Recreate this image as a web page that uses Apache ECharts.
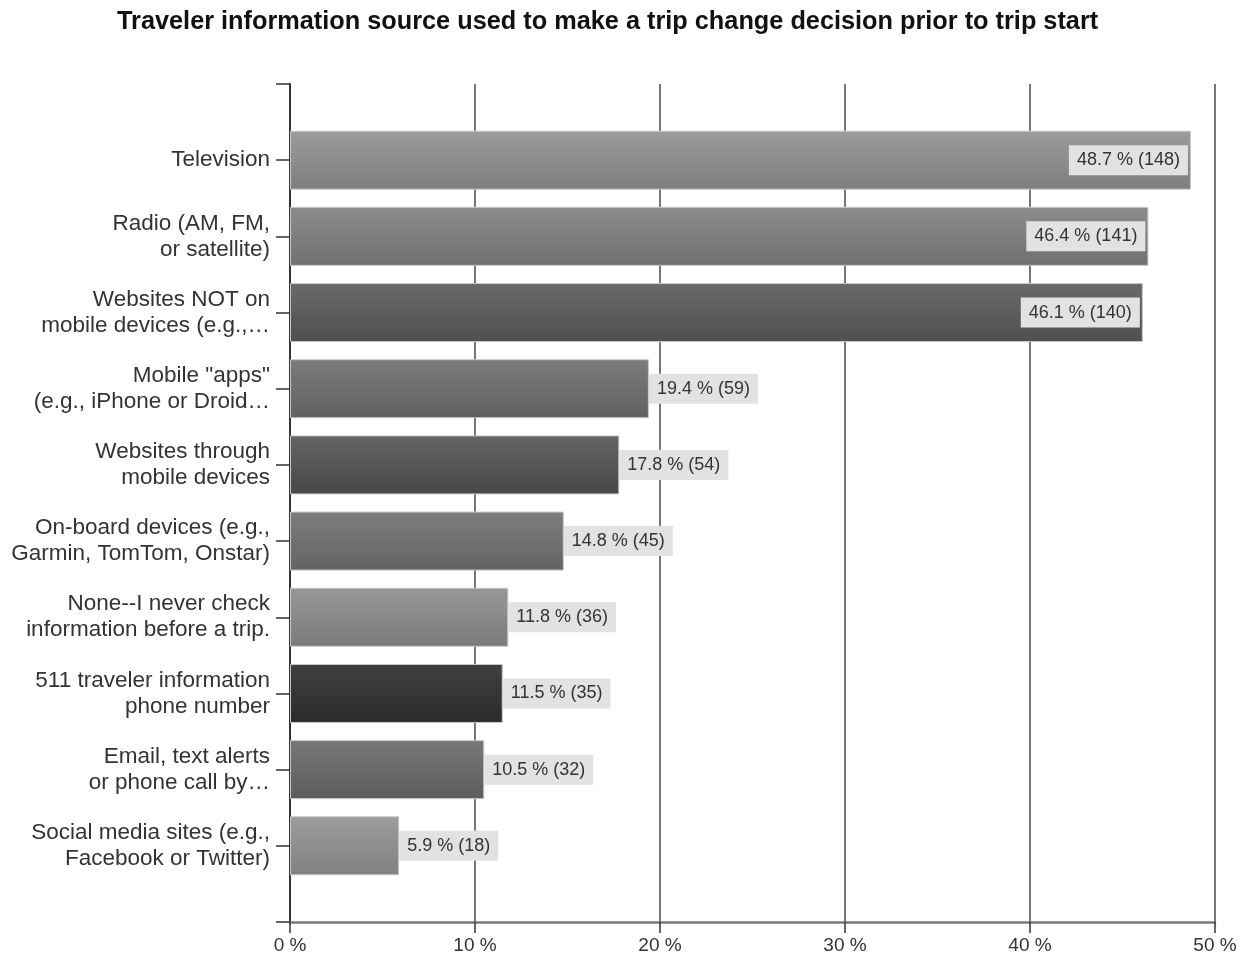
<!DOCTYPE html>
<html>
<head>
<meta charset="utf-8">
<title>Traveler information source</title>
<script src="https://cdn.jsdelivr.net/npm/echarts@6/dist/echarts.min.js"></script>
<style>
  html, body { margin: 0; padding: 0; background: #fff; }
  #chart { width: 1244px; height: 960px; }
</style>
</head>
<body>
<div id="chart"></div>
<script>
// Information sources (top to bottom)
const categories = [
  'Television',
  'Radio (AM, FM,\nor satellite)',
  'Websites NOT on\nmobile devices (e.g.,…',
  'Mobile "apps"\n(e.g., iPhone or Droid…',
  'Websites through\nmobile devices',
  'On-board devices (e.g.,\nGarmin, TomTom, Onstar)',
  'None--I never check\ninformation before a trip.',
  '511 traveler information\nphone number',
  'Email, text alerts\nor phone call by…',
  'Social media sites (e.g.,\nFacebook or Twitter)'
];
// Share of respondents (%) and respondent counts
const percents = [48.7, 46.4, 46.1, 19.4, 17.8, 14.8, 11.8, 11.5, 10.5, 5.9];
const counts = [148, 141, 140, 59, 54, 45, 36, 35, 32, 18];
// Bar shading, top and bottom of each gradient
const shadeTop = ['#9b9b9b', '#8c8c8c', '#6a6a6a', '#7c7c7c', '#646464', '#7e7e7e', '#979797', '#404040', '#787878', '#9c9c9c'];
const shadeBottom = ['#7e7e7e', '#707070', '#4f4f4f', '#606060', '#484848', '#636363', '#7b7b7b', '#2b2b2b', '#5c5c5c', '#818181'];
const xTicks = [0, 10, 20, 30, 40, 50];

const X_MAX = 50;

// Padded category list: an empty slot above and below the ten sources
const axisCats = [''].concat(categories, ['']);

const barData = [null].concat(percents.map((v, i) => ({
  value: v,
  itemStyle: {
    color: {
      type: 'linear', x: 0, y: 0, x2: 0, y2: 1,
      colorStops: [
        { offset: 0, color: shadeTop[i] },
        { offset: 1, color: shadeBottom[i] }
      ]
    }
  },
  label: v > X_MAX * 0.6
    ? { position: 'insideRight', distance: 3 }
    : { position: 'right', distance: 0 }
})), [null]);

const chart = echarts.init(document.getElementById('chart'), null, { renderer: 'canvas' });

chart.setOption({
  animation: false,
  backgroundColor: '#ffffff',
  title: {
    text: 'Traveler information source used to make a trip change decision prior to trip start',
    left: 112,
    top: 5,
    textStyle: {
      fontFamily: 'Liberation Sans',
      fontWeight: 'bold',
      fontSize: 25.3,
      color: '#111'
    }
  },
  grid: {
    left: 290,
    right: 29,
    top: 84,
    bottom: 38,
    containLabel: false
  },
  xAxis: {
    type: 'value',
    min: 0,
    max: X_MAX,
    interval: 10,
    axisLine: { show: true, lineStyle: { color: '#7a7a7a', width: 2.5 } },
    axisTick: { show: true, length: 11, lineStyle: { color: '#333', width: 1.5 } },
    axisLabel: {
      formatter: v => (xTicks.indexOf(v) >= 0 ? v + ' %' : ''),
      fontFamily: 'Liberation Sans',
      fontSize: 19,
      color: '#333',
      margin: 14
    },
    splitLine: { show: true, lineStyle: { color: '#555', width: 1.6 } }
  },
  yAxis: {
    type: 'category',
    inverse: true,
    boundaryGap: false,
    data: axisCats,
    axisLine: { show: true, onZero: false, lineStyle: { color: '#333', width: 2 } },
    axisTick: { show: true, length: 14, interval: 0, lineStyle: { color: '#333', width: 1.5 } },
    axisLabel: {
      interval: 0,
      fontFamily: 'Liberation Sans',
      fontSize: 22.5,
      lineHeight: 26,
      color: '#333',
      margin: 20,
      align: 'right'
    },
    splitLine: { show: false }
  },
  series: [{
    type: 'bar',
    data: barData,
    barWidth: 59,
    itemStyle: { borderColor: '#c8c8c8', borderWidth: 1 },
    label: {
      show: true,
      formatter: p => p.value + ' % (' + counts[p.dataIndex - 1] + ')',
      fontFamily: 'Liberation Sans',
      fontSize: 18,
      color: '#333',
      backgroundColor: '#e2e2e2',
      padding: [6, 8, 6, 8]
    }
  }]
});
</script>
</body>
</html>
